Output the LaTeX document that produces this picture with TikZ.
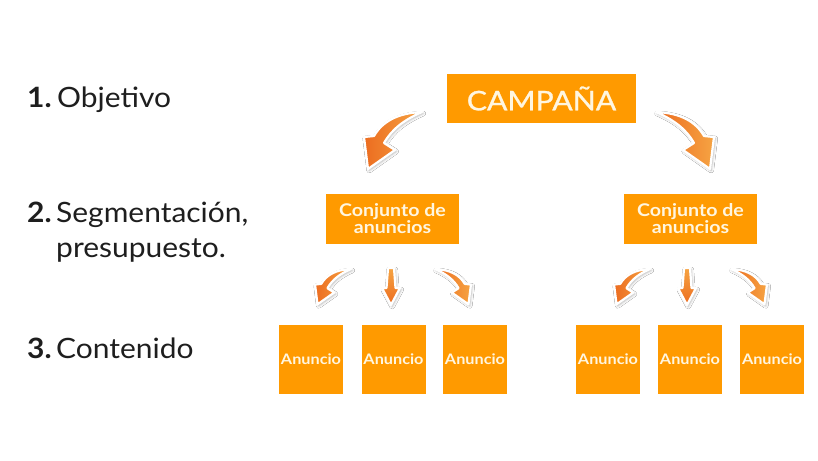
\documentclass[tikz,border=0pt]{standalone}
\usepackage{fontspec}
\setmainfont{Lato}
\newfontfamily\boxfont{Lato}[FakeStretch=1.12]
\newfontfamily\campfont{Lato}[FakeStretch=1.12, FakeBold=1]
\newfontfamily\lblfont{Lato}[FakeStretch=1.07]
\usetikzlibrary{shadows.blur}
\definecolor{boxorange}{HTML}{FF9A00}
\definecolor{boxtext}{HTML}{FFF6E0}
\definecolor{arrlight}{HTML}{F6A443}
\definecolor{arrdark}{HTML}{EC6C20}
\definecolor{labeltext}{HTML}{1E1E1E}
\tikzset{
  box/.style={fill=boxorange, text=boxtext, inner sep=0pt, align=center},
  campbox/.style={box, minimum width=189pt, minimum height=49pt, font=\campfont\fontsize{27}{30}\selectfont},
  setbox/.style={box, minimum width=133pt, minimum height=50pt, font=\boxfont\bfseries\fontsize{17.5}{17}\selectfont},
  adbox/.style={box, minimum width=64pt, minimum height=69pt, font=\boxfont\bfseries\fontsize{14.5}{16}\selectfont},
  lbl/.style={anchor=base west, inner sep=0pt, text=labeltext, font=\lblfont\fontsize{28}{34}\selectfont},
  arrowbody/.style={draw=white, line width=2.2pt, line join=round,
    blur shadow={shadow xshift=1.2pt, shadow yshift=-1.5pt, shadow blur radius=2.5pt, shadow opacity=30}},
  pics/curvarrow/.style={code={
    \path[arrowbody, left color=arrdark, right color=arrlight]
      (0,0) .. controls (-25,1) and (-40,10) .. (-48,24) -- (-58,25) -- (-54,57)
      -- (-27,38) -- (-38,31) .. controls (-30,17) and (-18,8) .. cycle;
  }},
  pics/straightarrow/.style={code={
    \path[arrowbody, top color=arrlight, bottom color=arrdark]
      (-3,0) -- (3,0) -- (4.5,20) -- (9,20) -- (0,37) -- (-9,20) -- (-4.5,20) -- cycle;
  }}
}
\begin{document}
\begin{tikzpicture}[x=1pt, y=-1pt]
  \useasboundingbox[fill=white] (0,0) rectangle (818,460);

  % left labels
  \node[lbl] (n1) at (27,107) {\textbf{1.}};
  \node[lbl] (t1) at (57,107) {Objetivo};
  \node[lbl] (n2) at (27,222) {\textbf{2.}};
  \node[lbl] (t2) at (56,222) {Segmentación,};
  \node[lbl] (t2b) at (56,257) {presupuesto.};
  \node[lbl] (n3) at (27,358) {\textbf{3.}};
  \node[lbl] (t3) at (56,358) {Contenido};

  % boxes
  \node[campbox] (camp) at (541.5,98.5) {CAMPAÑA};
  \node[setbox] (setL) at (392.5,219) {Conjunto de\\anuncios};
  \node[setbox] (setR) at (690.5,219) {Conjunto de\\anuncios};

  \node[adbox] (a1) at (311,359.5) {Anuncio};
  \node[adbox] (a2) at (393.5,359.5) {Anuncio};
  \node[adbox] (a3) at (475,359.5) {Anuncio};
  \node[adbox] (a4) at (608,359.5) {Anuncio};
  \node[adbox] (a5) at (690,359.5) {Anuncio};
  \node[adbox] (a6) at (772,359.5) {Anuncio};

  % big arrows
  \pic at (422,112) {curvarrow};
  \pic[xscale=-1] at (656,112) {curvarrow};

  % small arrows, left group
  \pic[scale=0.62] at (351,269) {curvarrow};
  \pic at (391,268) {straightarrow};
  \pic[xscale=-0.62, yscale=0.62] at (435,269) {curvarrow};

  % small arrows, right group
  \pic[scale=0.62] at (650,269) {curvarrow};
  \pic at (687,268) {straightarrow};
  \pic[xscale=-0.62, yscale=0.62] at (731,269) {curvarrow};
\end{tikzpicture}
\end{document}
